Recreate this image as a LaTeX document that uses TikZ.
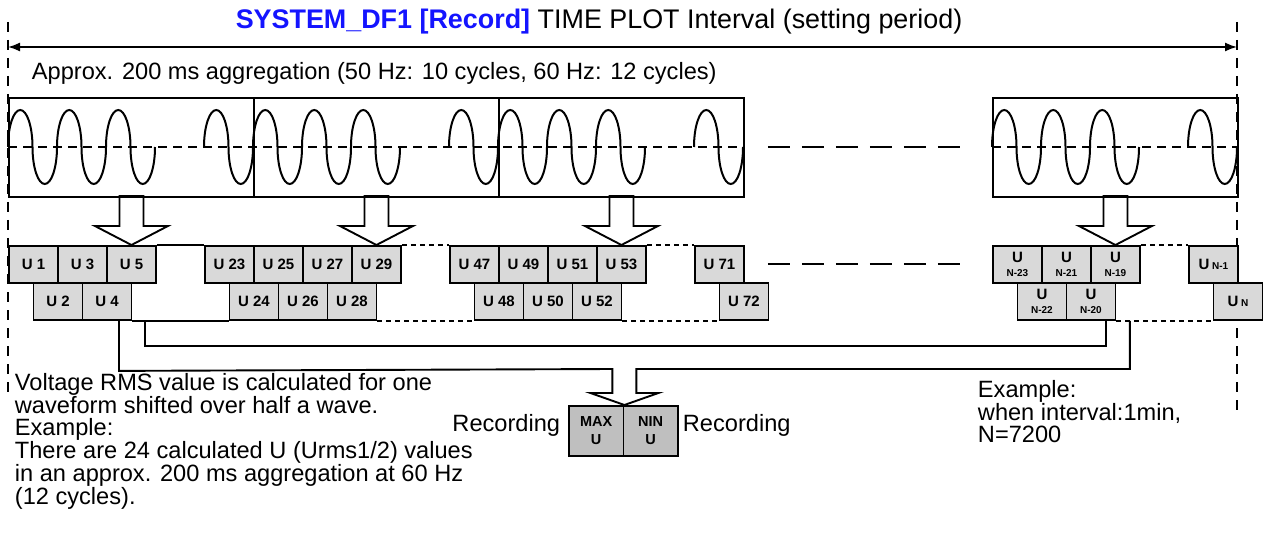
\documentclass[tikz,border=0pt]{standalone}
\usepackage{fontspec}
\setmainfont{Liberation Sans}
\usetikzlibrary{arrows.meta, positioning, calc}
\definecolor{mBlue}{HTML}{1414FF}
\definecolor{mLight}{HTML}{D9D9D9}
\definecolor{mMid}{HTML}{BFBFBF}
\newcommand{\bodyfont}{\fontsize{23.6}{21.6}\selectfont}
\newcommand{\cellfont}{\fontsize{15}{15}\selectfont\bfseries}
\newcommand{\nsub}[1]{{\fontsize{10}{10}\selectfont #1}}

\begin{document}
\begin{tikzpicture}[x=1pt, y=-1pt, line width=1.9pt,
      >={Latex[length=12pt, width=9pt]},
      wbox/.style={draw, minimum width=245pt, minimum height=99pt, inner sep=0pt, anchor=north west},
      ucell/.style={draw, fill=mLight, minimum width=49pt, minimum height=37pt,
                    inner sep=0pt, anchor=north west, font=\cellfont, align=center},
      rcell/.style={draw, fill=mMid, minimum width=54.5pt, minimum height=50pt,
                    inner sep=0pt, anchor=north west, font=\fontsize{14.5}{18}\selectfont\bfseries, align=center},
      wave/.style={line width=2pt},
      mid/.style={dash pattern=on 9pt off 6pt},
      longdash/.style={dash pattern=on 22pt off 12pt},
      dots/.style={dash pattern=on 5pt off 4pt},
      guide/.style={line width=1.6pt, dash pattern=on 10pt off 8pt},
      blk/.style={line join=miter},
      txt/.style={font=\bodyfont, inner sep=0pt}]
    \useasboundingbox (0,0) rectangle (1268,545);

    % interval guides
    \coordinate (gl) at (8,22);    \coordinate (glb) at (8,395);
    \coordinate (gr) at (1237,22); \coordinate (grb) at (1237,415);
    \coordinate (al) at (8,47);    \coordinate (ar) at (1237,47);
    \draw[guide] (gl) -- (glb);
    \draw[guide] (gr) -- (grb);
    \draw[<->, line width=1.6pt] (al) -- (ar);
    \node[txt, font=\fontsize{26.9}{30}\selectfont, anchor=base] (title) at (599,29)
      {\textcolor{mBlue}{\bfseries SYSTEM\_DF1 [Record]} TIME PLOT Interval (setting period)};
    \node[txt, anchor=base west] (aggr) at (31,80)
      {Approx. 200 ms aggregation (50 Hz: 10 cycles, 60 Hz: 12 cycles)};

    % waveform windows
    \node[wbox] (w1) at (8,97) {};
    \node[wbox] (w2) at (253,97) {};
    \node[wbox] (w3) at (498,97) {};
    \node[wbox] (w4) at (992,97) {};
    \draw[mid] (w1.west) -- (w3.east);
    \draw[mid] (w4.west) -- (w4.east);
    \draw[longdash] ([xshift=23pt]w3.east) -- ([xshift=-24pt]w4.west);
    \foreach \x in {8,57,106,204,253,302,351,449,498,547,596,694,992,1041,1090,1188}
      \draw[wave] (\x,147) arc[start angle=180, end angle=0, x radius=12.25pt, y radius=37pt]
                           arc[start angle=180, end angle=360, x radius=12.25pt, y radius=37pt];

    % half-wave rms values
    \node[ucell] (u1) at (8,245) {U 1};
    \node[ucell] (u2) at (32.5,282) {U 2};
    \node[ucell] (u3) at (57,245) {U 3};
    \node[ucell] (u4) at (81.5,282) {U 4};
    \node[ucell] (u5) at (106,245) {U 5};
    \node[ucell] (u23) at (204,245) {U 23};
    \node[ucell] (u24) at (228.5,282) {U 24};
    \node[ucell] (u25) at (253,245) {U 25};
    \node[ucell] (u26) at (277.5,282) {U 26};
    \node[ucell] (u27) at (302,245) {U 27};
    \node[ucell] (u28) at (326.5,282) {U 28};
    \node[ucell] (u29) at (351,245) {U 29};
    \node[ucell] (u47) at (449,245) {U 47};
    \node[ucell] (u48) at (473.5,282) {U 48};
    \node[ucell] (u49) at (498,245) {U 49};
    \node[ucell] (u50) at (522.5,282) {U 50};
    \node[ucell] (u51) at (547,245) {U 51};
    \node[ucell] (u52) at (571.5,282) {U 52};
    \node[ucell] (u53) at (596,245) {U 53};
    \node[ucell] (u71) at (694,245) {U 71};
    \node[ucell] (u72) at (718.5,282) {U 72};
    \node[ucell] (un23) at (992,245) {U\\[-1pt]\nsub{N-23}};
    \node[ucell] (un22) at (1016.5,282) {U\\[-1pt]\nsub{N-22}};
    \node[ucell] (un21) at (1041,245) {U\\[-1pt]\nsub{N-21}};
    \node[ucell] (un20) at (1065.5,282) {U\\[-1pt]\nsub{N-20}};
    \node[ucell] (un19) at (1090,245) {U\\[-1pt]\nsub{N-19}};
    \node[ucell] (un1) at (1188,245) {U\,\nsub{N-1}};
    \node[ucell] (un) at (1212.5,282) {U\,\nsub{N}};

    \draw (u5.north east) -- (u23.north west);
    \draw (u4.south east) -- (u24.south west);
    \draw[dots] (u29.north east) -- (u47.north west);
    \draw[dots] (u28.south east) -- (u48.south west);
    \draw[dots] (u53.north east) -- (u71.north west);
    \draw[dots] (u52.south east) -- (u72.south west);
    \draw[dots] (un19.north east) -- (un1.north west);
    \draw[dots] (un20.south east) -- (un.south west);
    \draw[longdash] ([xshift=23pt]u71.east) -- ([xshift=-24pt]un23.west);

    % hollow arrows
    \draw[blk] (u5.north) -- ++(36.5,-19) -- ++(-24.5,0) -- ++(0,-30) -- ++(-24,0) -- ++(0,30) -- ++(-24.5,0) -- cycle;
    \draw[blk] (u29.north) -- ++(36.5,-19) -- ++(-24.5,0) -- ++(0,-30) -- ++(-24,0) -- ++(0,30) -- ++(-24.5,0) -- cycle;
    \draw[blk] (u53.north) -- ++(36.5,-19) -- ++(-24.5,0) -- ++(0,-30) -- ++(-24,0) -- ++(0,30) -- ++(-24.5,0) -- cycle;
    \draw[blk] (un19.north) -- ++(36.5,-19) -- ++(-24.5,0) -- ++(0,-30) -- ++(-24,0) -- ++(0,30) -- ++(-24.5,0) -- cycle;

    % max / min recording
    \node[rcell] (umax) at (568,405) {MAX\\U};
    \node[rcell] (umin) at (622.5,405) {NIN\\U};
    \draw[blk] ([xshift=12pt]u4.south) -- ++(0,50) -- ($(umax.north east)+(-12,-36)$) -- ++(0,24) -- ++(-22,0)
      -- (umax.north east) -- ++(34,-12) -- ++(-22,0) -- ++(0,-24) -| ([xshift=13.5pt]un20.south east);
    \draw ([xshift=12.5pt]u4.south east) -- ++(0,25) -| ([xshift=-10.5pt]un20.south east);
    \node[txt, anchor=base east] (recl) at (561,431) {Recording};
    \node[txt, anchor=base west] (recr) at (682,431) {Recording};

    \node[txt, anchor=north west, align=left] (note) at (14,372.5)
      {Voltage RMS value is calculated for one\\ waveform shifted over half a wave.\\ Example:\\
       There are 24 calculated U (Urms1/2) values\\ in an approx. 200 ms aggregation at 60 Hz\\ (12 cycles).};
    \node[txt, anchor=north west, align=left] (ex) at (977,379.5)
      {Example:\\ when interval:1min,\\ N=7200};
  \end{tikzpicture}
\end{document}
